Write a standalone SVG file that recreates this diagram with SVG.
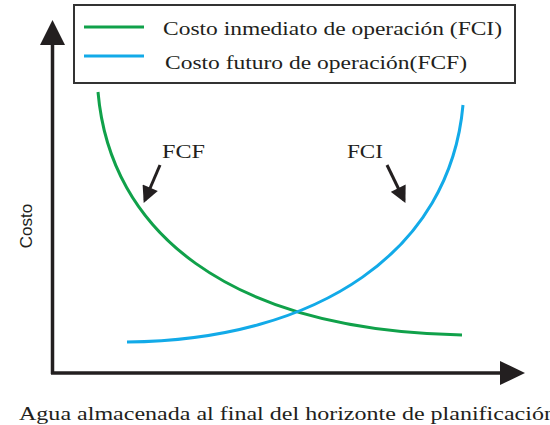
<svg xmlns="http://www.w3.org/2000/svg" width="550" height="425" viewBox="0 0 550 425">
  <style>
    .axis { stroke: #231f20; stroke-width: 3.5; fill: none; }
    .green { stroke: #10a14a; stroke-width: 3; fill: none; }
    .blue { stroke: #12aae8; stroke-width: 3; fill: none; }
    .pointer { stroke: #231f20; stroke-width: 3; fill: none; }
  </style>
  <defs>
    <marker id="head" viewBox="0 0 10 10" refX="8" refY="5" markerWidth="6" markerHeight="5.5" markerUnits="strokeWidth" orient="auto">
      <path d="M0,0 L10,5 L0,10 Z" fill="#231f20"/>
    </marker>
  </defs>

  <g id="axes">
    <line class="axis" x1="52.5" y1="374" x2="52.5" y2="40"/>
    <polygon points="52.5,20 40,45 65,45" fill="#231f20"/>
    <line class="axis" x1="51" y1="373" x2="503" y2="373"/>
    <polygon points="525,373 500,361 500,385" fill="#231f20"/>
  </g>

  <g font-family="Liberation Serif, Times New Roman, serif" fill="#231f20">
  <g id="legend">
    <rect x="74" y="5" width="441" height="78" fill="#fff" stroke="#333" stroke-width="2"/>
    <line class="green" x1="84" y1="27" x2="144" y2="27"/>
    <text x="163" y="35" font-size="19" textLength="339" lengthAdjust="spacingAndGlyphs">Costo inmediato de operación (FCI)</text>
    <line class="blue" x1="84" y1="56" x2="144" y2="56"/>
    <text x="165" y="69" font-size="19" textLength="302" lengthAdjust="spacingAndGlyphs">Costo futuro de operación(FCF)</text>
  </g>

  <g id="curves">
    <path id="fci-curve" class="green" d="M98,92 C110,230 225,330 462,335"/>
    <path id="fcf-curve" class="blue" d="M127,342 C320,340 450,250 463,105"/>
  </g>

  <g id="labels">
    <g id="label-fcf">
      <text x="162" y="158" font-size="19" textLength="43" lengthAdjust="spacingAndGlyphs">FCF</text>
      <line class="pointer" x1="160" y1="165" x2="145" y2="200" marker-end="url(#head)"/>
    </g>
    <g id="label-fci">
      <text x="347" y="158" font-size="19" textLength="36" lengthAdjust="spacingAndGlyphs">FCI</text>
      <line class="pointer" x1="387" y1="165" x2="404" y2="200" marker-end="url(#head)"/>
    </g>
  </g>
  <text x="19" y="420" font-size="19" textLength="537" lengthAdjust="spacingAndGlyphs">Agua almacenada al final del horizonte de planificación</text>
  </g>

  <text font-family="Liberation Sans, Arial, sans-serif" fill="#231f20" x="0" y="0" font-size="17" transform="translate(32,226) rotate(-90)" text-anchor="middle">Costo</text>
</svg>
